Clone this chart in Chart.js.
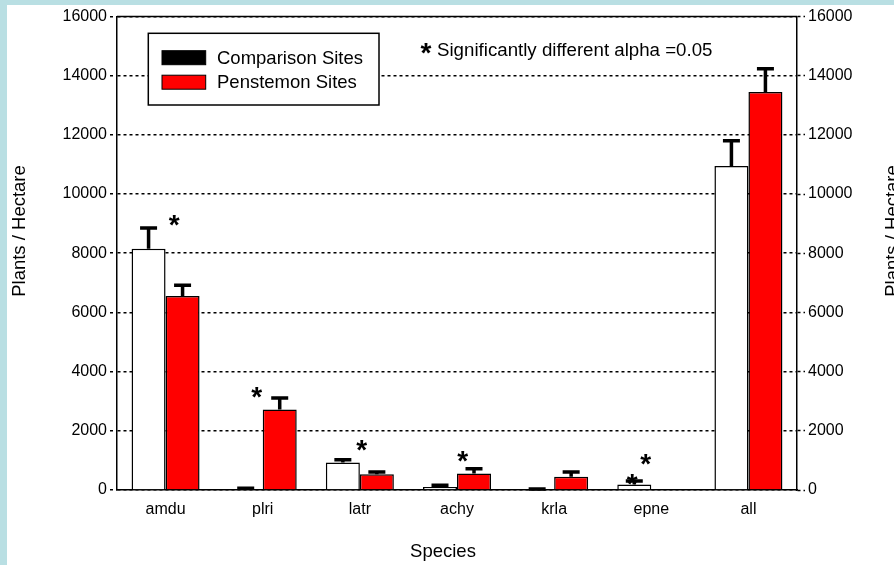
<!DOCTYPE html>
<html>
<head>
<meta charset="utf-8">
<script src="https://cdn.jsdelivr.net/npm/chart.js@4/dist/chart.umd.min.js"></script>
<style>
  html, body { margin: 0; padding: 0; background: #b9dfe3; overflow: hidden; }
  #sheet { position: absolute; left: 7px; top: 5px; width: 887px; height: 560px; background: #ffffff; overflow: hidden; }
  #c { display: block; }
</style>
</head>
<body>
<div id="sheet"><canvas id="c" width="887" height="560" style="width:887px;height:560px"></canvas></div>
<script>
// Plant density by species, comparison vs. Penstemon sites
const species = ['amdu', 'plri', 'latr', 'achy', 'krla', 'epne', 'all'];
const comparisonSites = [8150, 30, 930, 100, 20, 190, 10950];
const comparisonSE    = [700, 25, 90, 60, 10, 110, 850];
const penstemonSites  = [6550, 2720, 530, 560, 450, 0, 13450];
const penstemonSE     = [370, 390, 80, 160, 160, 0, 780];
const yTicks = [0, 2000, 4000, 6000, 8000, 10000, 12000, 14000, 16000];

// significance asterisks: species and the density level they sit at
const sigSpecies = ['amdu', 'plri', 'latr', 'achy', 'epne', 'epne'];
const sigLevel   = [9100, 3280, 1510, 1140, 1030, 340];

const FONT = "'Liberation Sans', Arial, Helvetica, sans-serif";
const markShift = [8.7, -6, 1.8, 5.7, -5.6, -19]; // px nudge of each asterisk from the category centre

const errorBars = {
  id: 'errorBars',
  afterDatasetsDraw(chart) {
    const ctx = chart.ctx;
    const y = chart.scales.y;
    const seSets = [comparisonSE, penstemonSE];
    const valSets = [comparisonSites, penstemonSites];
    ctx.save();
    ctx.strokeStyle = '#000';
    ctx.lineWidth = 3.5;
    chart.data.datasets.forEach((ds, di) => {
      const meta = chart.getDatasetMeta(di);
      meta.data.forEach((bar, i) => {
        const se = seSets[di][i];
        if (!se) return;
        const yTop = y.getPixelForValue(valSets[di][i] + se);
        const yBase = y.getPixelForValue(valSets[di][i]);
        ctx.beginPath();
        ctx.moveTo(bar.x, yBase);
        ctx.lineTo(bar.x, yTop);
        ctx.moveTo(bar.x - 8.5, yTop);
        ctx.lineTo(bar.x + 8.5, yTop);
        ctx.stroke();
      });
    });
    // asterisks
    const x = chart.scales.x;
    ctx.fillStyle = '#000';
    ctx.font = 'bold 28px ' + FONT;
    ctx.textAlign = 'center';
    ctx.textBaseline = 'alphabetic';
    const m = ctx.measureText('*');
    const mid = (m.actualBoundingBoxAscent - m.actualBoundingBoxDescent) / 2;
    sigSpecies.forEach((sp, k) => {
      const cx = x.getPixelForValue(species.indexOf(sp)) + markShift[k];
      const cy = y.getPixelForValue(sigLevel[k]);
      ctx.fillText('*', cx, cy + mid);
    });
    ctx.restore();
  }
};

const frameAndText = {
  id: 'frameAndText',
  beforeDatasetsDraw(chart) {
    const {ctx, chartArea: a} = chart;
    ctx.save();
    ctx.strokeStyle = '#000';
    ctx.lineWidth = 1.5;
    ctx.beginPath();
    ctx.moveTo(a.left, a.top);
    ctx.lineTo(a.right, a.top);
    ctx.stroke();
    ctx.restore();
  },
  afterDraw(chart) {
    const ctx = chart.ctx;
    ctx.save();
    // legend box
    ctx.fillStyle = '#fff';
    ctx.fillRect(141.3, 28.3, 230.7, 71.7);
    ctx.strokeStyle = '#000';
    ctx.lineWidth = 1.5;
    ctx.strokeRect(141.3, 28.3, 230.7, 71.7);
    const items = [
      {label: chart.data.datasets[0].label, color: '#000', y: 52.7},
      {label: chart.data.datasets[1].label, color: '#ff0000', y: 77.2}
    ];
    ctx.font = '18.5px ' + FONT;
    ctx.textBaseline = 'middle';
    ctx.textAlign = 'left';
    items.forEach(it => {
      ctx.fillStyle = it.color;
      ctx.fillRect(155, it.y - 7, 43.7, 14);
      ctx.lineWidth = 1;
      ctx.strokeStyle = '#000';
      ctx.strokeRect(155, it.y - 7, 43.7, 14);
      ctx.fillStyle = '#000';
      ctx.fillText(it.label, 210, it.y + 1);
    });
    // significance note
    ctx.font = 'bold 28px ' + FONT;
    ctx.textAlign = 'center';
    ctx.textBaseline = 'alphabetic';
    const m = ctx.measureText('*');
    ctx.fillText('*', 419, 43 + (m.actualBoundingBoxAscent - m.actualBoundingBoxDescent) / 2);
    ctx.font = '18.7px ' + FONT;
    ctx.textAlign = 'left';
    ctx.fillText('Significantly different alpha =0.05', 430, 51);
    // axis titles
    ctx.font = '18.5px ' + FONT;
    ctx.textAlign = 'center';
    ctx.textBaseline = 'middle';
    ctx.fillText('Species', 436, 547);
    [13, 885.5].forEach(px => {
      ctx.save();
      ctx.translate(px, 226);
      ctx.rotate(-Math.PI / 2);
      ctx.fillText('Plants / Hectare', 0, 0);
      ctx.restore();
    });
    ctx.restore();
  }
};

const tickFont = {family: FONT, size: 16, lineHeight: 1.05};
const plainNumber = v => String(v);

new Chart(document.getElementById('c'), {
  type: 'bar',
  data: {
    labels: species,
    datasets: [
      {label: 'Comparison Sites', data: comparisonSites, backgroundColor: '#ffffff', borderColor: '#000', borderWidth: 1.5},
      {label: 'Penstemon Sites', data: penstemonSites, backgroundColor: '#ff0000', borderColor: '#000', borderWidth: 1.5}
    ]
  },
  options: {
    responsive: false,
    animation: false,
    devicePixelRatio: 1,
    layout: {padding: {top: 9, left: 0, right: 0, bottom: 0}},
    datasets: {bar: {categoryPercentage: 0.7, barPercentage: 1.0}},
    plugins: {legend: {display: false}, tooltip: {enabled: false}},
    scales: {
      x: {
        grid: {display: false, drawTicks: false},
        border: {display: true, color: '#000', width: 1.5},
        ticks: {color: '#000', font: tickFont, padding: 11},
        afterFit(s) { s.height = 75; }
      },
      y: {
        position: 'left',
        min: 0, max: 16000,
        afterBuildTicks(s) { s.ticks = yTicks.map(v => ({value: v})); },
        ticks: {color: '#000', font: tickFont, padding: 3, callback: plainNumber},
        grid: {color: '#000', lineWidth: 1.5, tickLength: 7, tickColor: '#000', tickWidth: 1.5, tickBorderDash: [3, 3]},
        border: {display: true, color: '#000', width: 1.5, dash: [3, 3]},
        afterFit(s) { s.width = 110; }
      },
      y2: {
        position: 'right',
        min: 0, max: 16000,
        afterBuildTicks(s) { s.ticks = yTicks.map(v => ({value: v})); },
        ticks: {color: '#000', font: tickFont, padding: 3, callback: plainNumber},
        grid: {drawOnChartArea: false, tickLength: 8, tickColor: '#000', tickWidth: 1.5, tickBorderDash: [3, 3]},
        border: {display: true, color: '#000', width: 1.5},
        afterFit(s) { s.width = 97; }
      }
    }
  },
  plugins: [errorBars, frameAndText]
});
</script>
</body>
</html>
